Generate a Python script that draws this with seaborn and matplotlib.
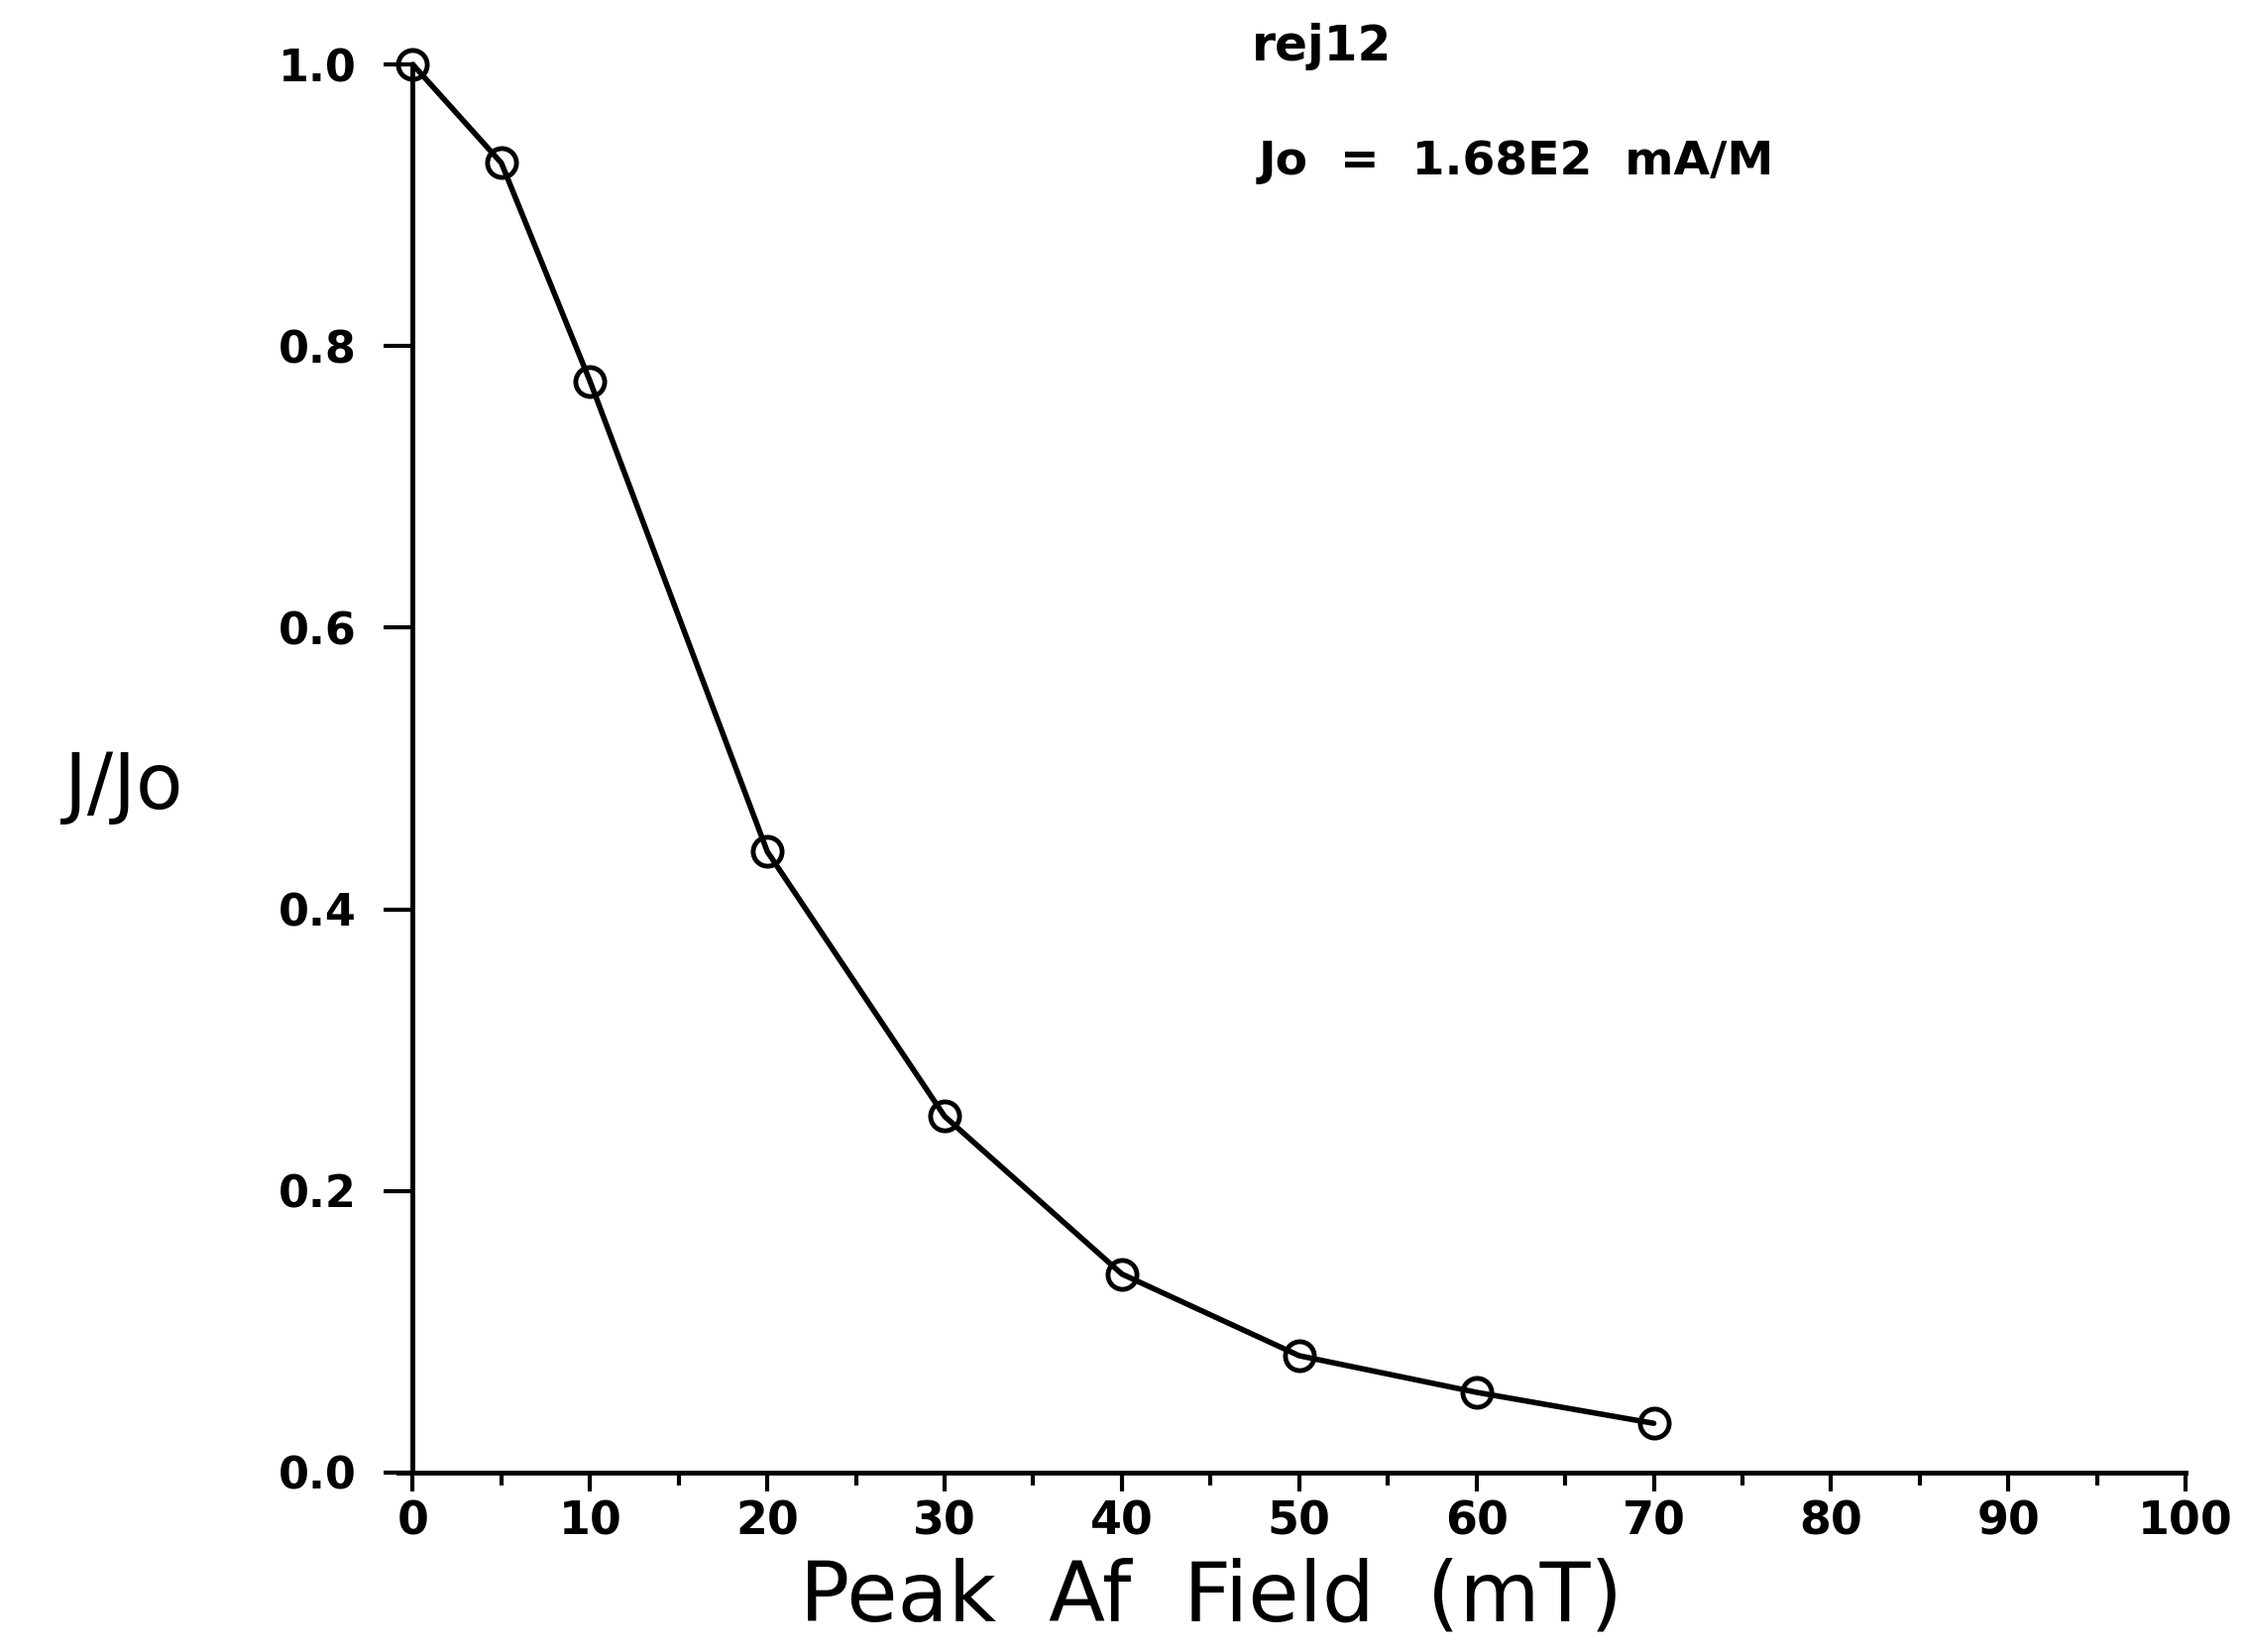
import matplotlib
matplotlib.use('Agg')
import matplotlib.pyplot as plt
import seaborn as sns

# Values
peak_field = [0, 5, 10, 20, 30, 40, 50, 60, 70]
j_ratio = [1.0, 0.930, 0.775, 0.441, 0.253, 0.141, 0.083, 0.057, 0.035]
x_ticks = [0, 10, 20, 30, 40, 50, 60, 70, 80, 90, 100]
y_ticks = [0.0, 0.2, 0.4, 0.6, 0.8, 1.0]
sample_name = 'rej12'
jo_text = 'Jo  =  1.68E2  mA/M'

sns.set_theme(style='ticks')
plt.rcParams['font.family'] = ['DejaVu Sans']
plt.rcParams['text.color'] = 'black'
plt.rcParams['axes.labelcolor'] = 'black'

fig = plt.figure(figsize=(22.64, 16.67), dpi=100)
ax = fig.add_axes([0.1776, 0.1086, 0.7964, 0.8524])

sns.lineplot(x=peak_field, y=j_ratio, ax=ax, color='black', linewidth=4,
             marker='o', markersize=21, markerfacecolor='none',
             markeredgecolor='black', markeredgewidth=3.5, clip_on=False)

ax.set_xlim(-0.8, 100)
ax.set_ylim(0, 1.0)
ax.set_xticks(x_ticks)
ax.set_xticks(range(5, 100, 10), minor=True)
ax.set_yticks(y_ticks)
ax.set_yticklabels([f'{v:.1f}' for v in y_ticks])

for side in ['top', 'right']:
    ax.spines[side].set_visible(False)
ax.spines['left'].set_position(('data', 0))
ax.spines['left'].set_bounds(0, 1.0)
for side in ['left', 'bottom']:
    ax.spines[side].set_linewidth(3.5)
    ax.spines[side].set_color('black')

ax.tick_params(axis='x', which='major', direction='out', length=14, width=3,
               labelsize=33, pad=6, colors='black')
ax.tick_params(axis='x', which='minor', direction='out', length=9, width=3,
               colors='black')
ax.tick_params(axis='y', direction='out', length=21, width=3,
               labelsize=32, pad=20, colors='black')
for lbl in ax.get_xticklabels() + ax.get_yticklabels():
    lbl.set_fontweight('bold')

ax.set_xlabel('Peak  Af  Field  (mT)', fontsize=60, va='center')
ax.xaxis.set_label_coords(0.455, -0.089)
ax.set_ylabel('J/Jo', fontsize=56, rotation=0, ha='center', va='center')
ax.yaxis.set_label_coords(-0.154, 0.487)

fig.text(0.558, 0.972, sample_name, fontsize=35, fontweight='bold', va='center')
fig.text(0.561, 0.902, jo_text, fontsize=34, fontweight='bold', va='center')

fig.savefig('out.png', dpi=100, facecolor='white')
